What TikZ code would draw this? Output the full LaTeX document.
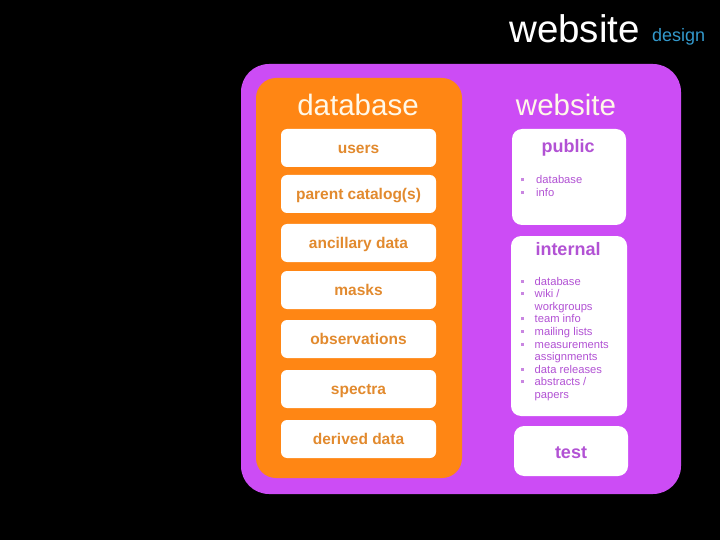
\documentclass[tikz,border=0pt]{standalone}
\usepackage{fontspec}
\setmainfont{Liberation Sans}
\definecolor{bgpurple}{RGB}{204,76,245}
\definecolor{dborange}{RGB}{255,134,20}
\definecolor{itemtxt}{RGB}{226,138,46}
\definecolor{listpurple}{RGB}{178,82,212}
\definecolor{headwhite}{RGB}{255,248,232}
\definecolor{designblue}{RGB}{51,153,204}
\newcommand{\blt}{\raisebox{2.5pt}{\color{listpurple!70}\rule{3pt}{3pt}}}
\tikzset{
  itembox/.style={fill=white, rounded corners=6pt, minimum width=155pt, minimum height=38pt, inner sep=0pt,
    text=itemtxt, font=\fontsize{15.5}{18}\selectfont\bfseries, text height=11.5pt, text depth=0pt},
  webbox/.style={fill=white, rounded corners=10pt, inner sep=0pt},
  webtitle/.style={text=listpurple, font=\fontsize{18}{20}\selectfont\bfseries, inner sep=0pt, text height=13pt, text depth=0pt},
  listtxt/.style={text=listpurple, font=\fontsize{11.2}{12.6}\selectfont, inner sep=0pt, anchor=base west},
  header/.style={text=headwhite, font=\fontsize{29.5}{32}\selectfont, inner sep=0pt, text height=21pt, text depth=0pt}
}
\begin{document}
\begin{tikzpicture}[x=1pt,y=-1pt]
\useasboundingbox (0,0) rectangle (720,540);
\fill[black] (0,0) rectangle (720,540);
% main title
\node[text=white, font=\fontsize{38.5}{40}\selectfont, inner sep=0pt, anchor=base west] (title) at (509,43) {website};
\node[text=designblue, font=\fontsize{18}{20}\selectfont, inner sep=0pt, anchor=base west] (design) at (652,42) {design};
% panels
\fill[bgpurple, rounded corners=28pt] (241,64) rectangle (681,494);
\fill[dborange, rounded corners=20pt] (256,78) rectangle (462,478);
\node[header] (dbhead) at (358,105) {database};
\node[header] (webhead) at (566,105) {website};
% database items
\node[itembox] (users) at (358.5,148) {users};
\node[itembox] (parent) at (358.5,194) {parent catalog(s)};
\node[itembox] (ancil) at (358.5,243) {ancillary data};
\node[itembox] (masks) at (358.5,290) {masks};
\node[itembox] (obs) at (358.5,339) {observations};
\node[itembox] (spec) at (358.5,389) {spectra};
\node[itembox] (derived) at (358.5,439) {derived data};
% website boxes
\node[webbox, minimum width=114pt, minimum height=96pt] (public) at (569,177) {};
\node[webtitle] (pubtitle) at (568,146) {public};
\node[listtxt] (publist) at (521,184) {\begin{tabular}[t]{@{}l@{\hspace{12pt}}l@{}}
\blt & database\\
\blt & info
\end{tabular}};
\node[webbox, minimum width=116pt, minimum height=180pt] (internal) at (569,326) {};
\node[webtitle] (inttitle) at (568,249) {internal};
\node[listtxt] (intlist) at (521,285) {\begin{tabular}[t]{@{}l@{\hspace{10.5pt}}l@{}}
\blt & database\\
\blt & wiki /\\
 & workgroups\\
\blt & team info\\
\blt & mailing lists\\
\blt & measurements\\
 & assignments\\
\blt & data releases\\
\blt & abstracts /\\
 & papers
\end{tabular}};
\node[webbox, minimum width=114pt, minimum height=50pt] (test) at (571,451) {};
\node[webtitle] (testtitle) at (571,452) {test};
\end{tikzpicture}
\end{document}
